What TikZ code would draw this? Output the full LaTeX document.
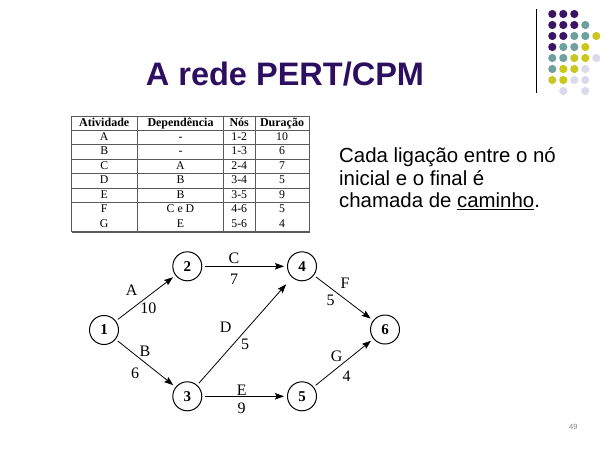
\documentclass[tikz,border=0pt]{standalone}
\usepackage{fontspec}
\setmainfont{Liberation Serif}
\newfontfamily\arialf{Liberation Sans}
\usetikzlibrary{arrows.meta}

\definecolor{titlepurple}{RGB}{45,15,95}
\definecolor{dotP}{RGB}{60,20,100}
\definecolor{dotT}{RGB}{110,160,158}
\definecolor{dotY}{RGB}{200,200,30}
\definecolor{dotL}{RGB}{218,218,236}
\definecolor{gridgray}{RGB}{90,90,90}

\begin{document}
\begin{tikzpicture}[x=1pt,y=-1pt,
  evnode/.style={circle,draw,line width=1pt,minimum size=29pt,inner sep=0pt,
    font=\fontsize{15}{15}\selectfont\bfseries},
  act/.style={line width=0.8pt,-{Stealth[length=9pt,width=6.5pt,inset=1.5pt]},
    shorten <=2.5pt,shorten >=3pt},
  elab/.style={inner sep=0pt,font=\fontsize{16}{16}\selectfont},
  cell/.style={inner sep=0pt,text height=8pt,text depth=2.6pt,font=\fontsize{11.8}{11.8}\selectfont},
  hcell/.style={cell,font=\fontsize{12}{12}\selectfont\bfseries},
  body/.style={anchor=base west,inner sep=0pt,font=\arialf\fontsize{20.4}{22.5}\selectfont},
  dot/.style={circle,inner sep=0pt,minimum size=8.2pt}
]
\useasboundingbox (0,0) rectangle (615,461);

% decorative dot grid and rule, top right
\draw[line width=0.9pt] (536,9) -- (536,93);
\foreach \r/\y in {0/14,1/25,2/36,3/47,4/58,5/69,6/80,7/91}{
  \ifcase\r
    \foreach \c/\col in {0/dotP,1/dotP,2/dotP}{\node[dot,fill=\col] at (552.3+11*\c,\y) {};}
  \or
    \foreach \c/\col in {0/dotP,1/dotP,2/dotP,3/dotT}{\node[dot,fill=\col] at (552.3+11*\c,\y) {};}
  \or
    \foreach \c/\col in {0/dotP,1/dotP,2/dotT,3/dotT,4/dotY}{\node[dot,fill=\col] at (552.3+11*\c,\y) {};}
  \or
    \foreach \c/\col in {0/dotP,1/dotT,2/dotT,3/dotY}{\node[dot,fill=\col] at (552.3+11*\c,\y) {};}
  \or
    \foreach \c/\col in {0/dotT,1/dotT,2/dotY,3/dotY,4/dotL}{\node[dot,fill=\col] at (552.3+11*\c,\y) {};}
  \or
    \foreach \c/\col in {0/dotT,1/dotY,2/dotY,3/dotL}{\node[dot,fill=\col] at (552.3+11*\c,\y) {};}
  \or
    \foreach \c/\col in {0/dotY,1/dotY,2/dotL,3/dotL}{\node[dot,fill=\col] at (552.3+11*\c,\y) {};}
  \or
    \foreach \c/\col in {1/dotL,3/dotL}{\node[dot,fill=\col] at (552.3+11*\c,\y) {};}
  \fi
}

% title
\node[inner sep=0pt,anchor=base,text=titlepurple,font=\arialf\bfseries\fontsize{32.5}{32.5}\selectfont]
  (title) at (285,85) {A rede PERT/CPM};

% activity table
\draw[gridgray,line width=0.7pt] (71,116) rectangle (309,231.5);
\draw[gridgray,line width=1pt] (309.8,116.5) -- (309.8,232.3) -- (71.5,232.3);
\foreach \x in {137.5,223.5,255}{\draw[gridgray,line width=0.6pt] (\x,116) -- (\x,231.5);}
\foreach \k in {0,...,5}{\draw[gridgray,line width=0.6pt] (71,130+14.5*\k) -- (309,130+14.5*\k);}
\node[hcell] (h1) at (104.25,123.3) {Atividade};
\node[hcell] (h2) at (180.5,123.3) {Dependência};
\node[hcell] (h3) at (239.25,123.3) {Nós};
\node[hcell] (h4) at (282,123.3) {Duração};
\foreach \k/\a/\d/\n/\t in {0/A/-/1-2/10,1/B/-/1-3/6,2/C/A/2-4/7,3/D/B/3-4/5,4/E/B/3-5/9,5/F/C e D/4-6/5,6/G/E/5-6/4}{
  \node[cell] (a\k) at (104.25,137.5+14.5*\k) {\a};
  \node[cell] (d\k) at (180.5,137.5+14.5*\k) {\d};
  \node[cell] (n\k) at (239.25,137.5+14.5*\k) {\n};
  \node[cell] (t\k) at (282,137.5+14.5*\k) {\t};
}

% explanatory text
\node[body] (txt1) at (339,162.7) {Cada ligação entre o nó};
\node[body] (txt2) at (339,185.2) {inicial e o final é};
\node[body] (txt3) at (339,207.7) {chamada de \underline{caminho}.};

% PERT network
\node[evnode] (n1) at (104,330) {1};
\node[evnode] (n2) at (187.3,266.3) {2};
\node[evnode] (n3) at (187.3,396.3) {3};
\node[evnode] (n4) at (302,266.3) {4};
\node[evnode] (n5) at (302,396.3) {5};
\node[evnode] (n6) at (385,329.5) {6};

\draw[act] (n1) -- (n2);
\draw[act] (n1) -- (n3);
\draw[act] (n2) -- (n4);
\draw[act,shorten >=9pt] (n3) -- (n4);
\draw[act] (n3) -- (n5);
\draw[act] (n4) -- (n6);
\draw[act] (n5) -- (n6);

\node[elab] (lA) at (131.7,290) {A};
\node[elab] (dA) at (148.3,308.3) {10};
\node[elab] (lB) at (145,351.7) {B};
\node[elab] (dB) at (135,373.3) {6};
\node[elab] (lC) at (234,258.3) {C};
\node[elab] (dC) at (234,279.3) {7};
\node[elab] (lD) at (225.7,327.3) {D};
\node[elab] (dD) at (245,344) {5};
\node[elab] (lE) at (241.7,390.7) {E};
\node[elab] (dE) at (241.7,408.3) {9};
\node[elab] (lF) at (345,283.3) {F};
\node[elab] (dF) at (330.7,300.7) {5};
\node[elab] (lG) at (336.7,356.7) {G};
\node[elab] (dG) at (346.7,376) {4};

% page number
\node[inner sep=0pt,text=gray,font=\arialf\fontsize{7.5}{7.5}\selectfont] (pg) at (573.3,426.7) {49};
\end{tikzpicture}
\end{document}
